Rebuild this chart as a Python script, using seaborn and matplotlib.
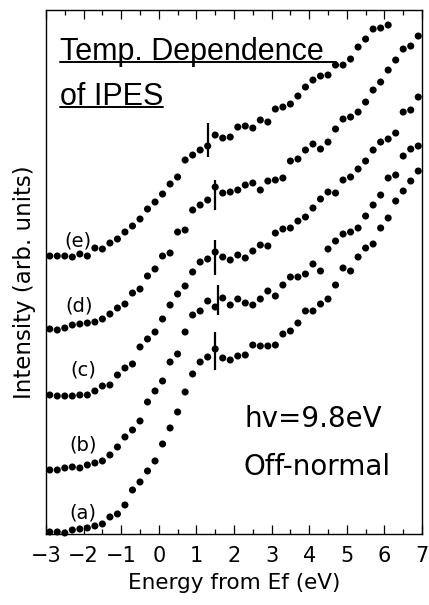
import numpy as np
import pandas as pd
import matplotlib
matplotlib.use('Agg')
import matplotlib.pyplot as plt
from matplotlib.lines import Line2D
from matplotlib.ticker import MultipleLocator
import seaborn as sns

# Energy grid (eV) of the measured points
energy = [-2.9, -2.7, -2.5, -2.3, -2.1, -1.9, -1.7, -1.5, -1.3, -1.1,
          -0.9, -0.7, -0.5, -0.3, -0.1, 0.1, 0.3, 0.5, 0.7, 0.9,
          1.1, 1.3, 1.5, 1.7, 1.9, 2.1, 2.3, 2.5, 2.7, 2.9,
          3.1, 3.3, 3.5, 3.7, 3.9, 4.1, 4.3, 4.5, 4.7, 4.9,
          5.1, 5.3, 5.5, 5.7, 5.9, 6.1, 6.3, 6.5, 6.7, 6.9]

# Intensity (arb. units), spectra already offset
spec_a = [0.02, 0.02, 0.01, 0.04, 0.05, 0.06, 0.08, 0.10, 0.17, 0.20,
          0.29, 0.44, 0.52, 0.63, 0.73, 0.90, 1.06, 1.22, 1.42, 1.60,
          1.72, 1.77, 1.85, 1.76, 1.74, 1.78, 1.79, 1.89, 1.88, 1.88,
          1.89, 2.00, 2.03, 2.11, 2.23, 2.23, 2.30, 2.35, 2.49, 2.66,
          2.63, 2.77, 2.86, 2.90, 3.06, 3.16, 3.33, 3.43, 3.53, 3.63]
spec_b = [0.64, 0.64, 0.66, 0.67, 0.66, 0.69, 0.71, 0.73, 0.79, 0.87,
          0.97, 1.04, 1.13, 1.32, 1.43, 1.53, 1.72, 1.80, 2.02, 2.19,
          2.23, 2.33, 2.27, 2.36, 2.29, 2.35, 2.31, 2.29, 2.35, 2.43,
          2.38, 2.49, 2.57, 2.57, 2.60, 2.70, 2.63, 2.85, 2.93, 3.00,
          3.02, 3.06, 3.18, 3.29, 3.39, 3.56, 3.59, 3.78, 3.85, 3.88]
spec_c = [1.39, 1.38, 1.38, 1.38, 1.39, 1.39, 1.43, 1.48, 1.49, 1.59,
          1.66, 1.70, 1.87, 1.95, 2.02, 2.15, 2.29, 2.40, 2.48, 2.62,
          2.72, 2.75, 2.82, 2.77, 2.74, 2.79, 2.76, 2.83, 2.89, 2.88,
          3.01, 3.05, 3.06, 3.13, 3.17, 3.26, 3.35, 3.42, 3.41, 3.54,
          3.57, 3.65, 3.73, 3.84, 3.92, 3.95, 4.01, 4.22, 4.24, 4.37]
spec_d = [2.05, 2.04, 2.06, 2.09, 2.10, 2.11, 2.12, 2.15, 2.20, 2.26,
          2.30, 2.41, 2.45, 2.58, 2.65, 2.78, 2.81, 3.02, 3.04, 3.24,
          3.29, 3.34, 3.47, 3.41, 3.42, 3.44, 3.49, 3.51, 3.44, 3.53,
          3.54, 3.56, 3.73, 3.75, 3.84, 3.90, 3.85, 3.92, 4.05, 4.15,
          4.17, 4.22, 4.32, 4.44, 4.52, 4.64, 4.74, 4.85, 4.88, 4.98]
spec_e = [2.78, 2.78, 2.78, 2.77, 2.80, 2.78, 2.86, 2.85, 2.91, 2.95,
          3.02, 3.08, 3.15, 3.25, 3.32, 3.40, 3.50, 3.57, 3.74, 3.79,
          3.84, 3.88, 3.99, 3.96, 3.97, 4.07, 4.08, 4.06, 4.14, 4.12,
          4.25, 4.27, 4.30, 4.38, 4.47, 4.54, 4.58, 4.59, 4.69, 4.69,
          4.75, 4.87, 4.95, 5.05, 5.06, 5.09]

curve_names = ['(a)', '(b)', '(c)', '(d)', '(e)']
spectra = [spec_a, spec_b, spec_c, spec_d, spec_e]

# label positions next to each spectrum (eV, intensity)
label_x = [-2.02, -2.0, -2.02, -2.13, -2.16]
label_y = [0.21, 0.89, 1.64, 2.28, 2.93]

# vertical markers on each spectrum
mark_x = [1.5, 1.58, 1.5, 1.5, 1.3]
mark_lo = [1.64, 2.19, 2.59, 3.24, 3.77]
mark_hi = [2.02, 2.49, 2.94, 3.54, 4.11]

rows = []
for name, vals in zip(curve_names, spectra):
    for e, v in zip(energy, vals):
        rows.append({'curve': name, 'energy': e, 'intensity': v})
df = pd.DataFrame(rows)

sns.set_theme(style='ticks')
plt.rcParams['font.family'] = ['DejaVu Sans']
plt.rcParams['axes.unicode_minus'] = True
plt.rcParams['text.color'] = 'black'
plt.rcParams['axes.labelcolor'] = 'black'
plt.rcParams['xtick.color'] = 'black'

fig = plt.figure(figsize=(4.29, 6.05), dpi=100)
ax = fig.add_axes([0.1072, 0.1174, 0.8765, 0.866])

sns.scatterplot(data=df, x='energy', y='intensity', hue='curve',
                palette=['black'] * 5, legend=False, s=26,
                edgecolor='none', ax=ax, clip_on=False, zorder=3)
ax.vlines(mark_x, mark_lo, mark_hi, colors='black', lw=1.6, zorder=4)

for name, lx, ly in zip(curve_names, label_x, label_y):
    ax.text(lx, ly, name, fontsize=14, ha='center', va='center',
            color='black')

ax.set_xlim(-3, 7)
ax.set_ylim(0, 5.24)
ax.set_yticks([])
ax.xaxis.set_major_locator(MultipleLocator(1))
ax.xaxis.set_minor_locator(MultipleLocator(0.5))
ax.tick_params(axis='x', which='major', direction='in', length=6.5,
               width=0.9, top=True, labelsize=15, pad=9, colors='black')
ax.tick_params(axis='x', which='minor', direction='in', length=3.5,
               width=0.9, top=True, colors='black')
for sp in ax.spines.values():
    sp.set_visible(True)
    sp.set_color('black')
    sp.set_linewidth(1.0)

ax.set_xlabel('Energy from Ef (eV)', fontsize=15.5, labelpad=5,
              color='black')
ax.set_ylabel('Intensity (arb. units)', fontsize=16.5, color='black')
ax.yaxis.set_label_coords(-0.026, 0.48)

t1 = ax.text(0.037, 0.905, 'Temp. Dependence', transform=ax.transAxes,
             fontsize=22, family='Liberation Sans', va='baseline',
             color='black')
t2 = ax.text(0.037, 0.819, 'of IPES', transform=ax.transAxes,
             fontsize=22, family='Liberation Sans', va='baseline',
             color='black')
ax.text(0.529, 0.204, 'hv=9.8eV', transform=ax.transAxes,
        fontsize=20, va='baseline', color='black')
ax.text(0.524, 0.113, 'Off-normal', transform=ax.transAxes,
        fontsize=20, va='baseline', color='black')

# underline the heading
fig.canvas.draw()
r = fig.canvas.get_renderer()
inv = fig.transFigure.inverted()
for t, extra in [(t1, 12), (t2, 0)]:
    bb = t.get_window_extent(r)
    yb = ax.transAxes.transform(t.get_position())[1] - 2
    p0 = inv.transform((bb.x0, yb))
    p1 = inv.transform((bb.x1 + extra, yb))
    fig.add_artist(Line2D([p0[0], p1[0]], [p0[1], p1[1]],
                          transform=fig.transFigure, color='black', lw=1.4))

fig.savefig('out.png', dpi=100)
